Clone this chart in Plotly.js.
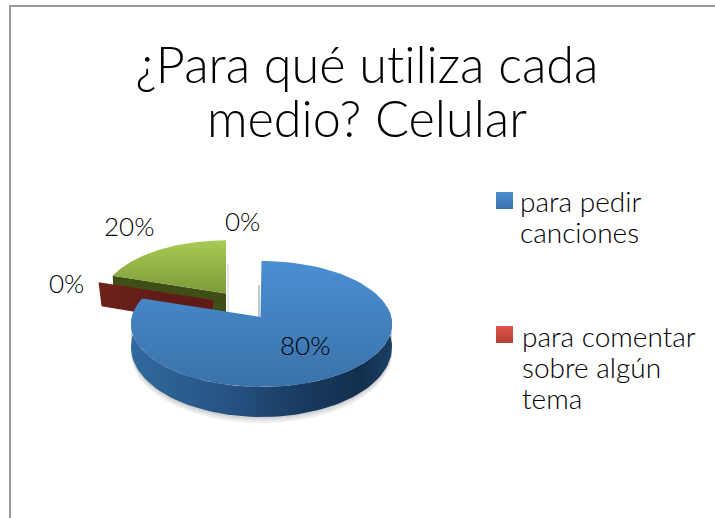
<!DOCTYPE html>
<html><head><meta charset="utf-8">
<script src="https://cdn.plot.ly/plotly-3.0.1.min.js"></script>
<style>html,body{margin:0;padding:0;background:#fff} svg text, svg tspan{font-variant-ligatures:none !important;font-feature-settings:"liga" 0,"clig" 0,"calt" 0,"dlig" 0 !important}</style></head>
<body><div id="chart" style="width:715px;height:518px"></div>
<script>
const titleLines = ["¿Para qué utiliza cada", "medio? Celular"];
const sliceValues = [80, 0, 20, 0];
const legendLines = [["para pedir", "canciones"], ["para comentar", "sobre algún", "tema"]];

const FONT = "Lato, 'Noto Sans', sans-serif";
const rad = d => d * Math.PI / 180;
const total = sliceValues.reduce((a, b) => a + b, 0);
const cum = [0];
sliceValues.forEach(v => cum.push(cum[cum.length - 1] + v / total * 360));
const sized = (lines, px) => lines.map(t => `<span style="font-size:${px}px">${t}</span>`).join("<br>");

// perspective projection of the pie's ground plane
const K = 0.111, A = 129.7, B = 62.2;
function rim(ax, ay, s, deg, drop) {
  const X = Math.sin(rad(deg)), Y = Math.cos(rad(deg)), w = 1 + K * Y;
  const d = drop ? drop * (22 - 8 * Y) / 22 : 0;
  return [ax + s * A * X / w, ay - s * B * Y / w + d];
}
function arc(ax, ay, s, from, to, drop) {
  const pts = [], n = 90;
  for (let i = 0; i <= n; i++) pts.push(rim(ax, ay, s, from + (to - from) * i / n, drop));
  return pts;
}
function poly(pts, extra) {
  const closed = pts.concat([pts[0]]);
  return Object.assign({
    x: closed.map(p => p[0]), y: closed.map(p => p[1]),
    type: "scatter", mode: "lines", fill: "toself", hoverinfo: "skip",
    showlegend: false, line: { width: 0 }
  }, extra);
}
const grad = (type, stops) => ({ fillgradient: { type, colorscale: stops } });

const blue = { ax: 261.5, ay: 317, s: 1, from: cum[0], to: cum[1] };
const red = { ax: 213, ay: 300, s: 0.96, at: cum[2] };
const green = { ax: 226, ay: 293.5, s: 0.95, from: cum[2], to: cum[3] };

const traces = [];
// soft shadow below the body of the pie
[[6, "#efefef"], [4, "#e2e2e2"], [2, "#d2d2d2"]].forEach(([off, c]) => {
  const pts = arc(blue.ax, blue.ay + off, blue.s, 95, 265, 22);
  const top = arc(blue.ax, blue.ay, blue.s, 265, 95, 0);
  traces.push(poly(pts.concat(top), { fillcolor: c }));
});
// green slice: cut face, top face
const gc = rim(green.ax, green.ay, green.s, green.from);
const gcDown = [gc[0] + 1, gc[1] + 24], gaDown = [green.ax, green.ay + 24];
traces.push(poly([gc, [green.ax, green.ay], gaDown, gcDown], { fillcolor: "#3f4e17" }));
traces.push(poly([[green.ax, green.ay]].concat(arc(green.ax, green.ay, green.s, green.from, green.to)),
  Object.assign({ fillcolor: "#95b446" }, grad("vertical", [[0, "#7d9a38"], [1, "#a9cb55"]]))));
// red 0% slice: only its cut face shows
const ro = rim(red.ax, red.ay, red.s, red.at);
traces.push(poly([ro, [red.ax, red.ay], [red.ax, red.ay + 25], [ro[0] + 3, ro[1] + 24]],
  Object.assign({ fillcolor: "#671f1a" }, grad("horizontal", [[0, "#6e211b"], [0.6, "#5f1c18"], [1, "#611a15"]]))));
// inner shadows
traces.push({ x: [blue.ax - 2.5, blue.ax - 2.5], y: [285, blue.ay], type: "scatter", mode: "lines",
  line: { color: "rgba(110,120,130,0.4)", width: 2 }, hoverinfo: "skip", showlegend: false });
traces.push({ x: [green.ax + 2, green.ax + 2], y: [264, 312], type: "scatter", mode: "lines",
  line: { color: "rgba(180,180,180,0.3)", width: 2 }, hoverinfo: "skip", showlegend: false });
// blue slice: side wall, top face
const sideTop = arc(blue.ax, blue.ay, blue.s, 80, 280, 0);
const sideBottom = arc(blue.ax, blue.ay, blue.s, 280, 80, 22);
traces.push(poly(sideTop.concat(sideBottom),
  Object.assign({ fillcolor: "#24507f" }, grad("horizontal",
    [[0, "#316a9e"], [0.15, "#2c6193"], [0.4, "#265081"], [0.65, "#193b60"], [0.88, "#122f4e"], [1, "#1b4063"]]))));
traces.push(poly([[blue.ax - 1, blue.ay]].concat(arc(blue.ax, blue.ay, blue.s, blue.from, blue.to)),
  Object.assign({ fillcolor: "#3f80bd" }, grad("vertical", [[0, "#3a72a9"], [1, "#4a8fd3"]]))));
// legend swatches
const swatch = (x, y, c0, c1) => poly([[x, y], [x + 17, y], [x + 17, y + 17], [x, y + 17]],
  Object.assign({ fillcolor: c0 }, grad("vertical", [[0, c1], [1, c0]])));
traces.push(swatch(496, 192, "#4a8fd3", "#3a72a9"));
traces.push(swatch(496, 326, "#e05549", "#b33e37"));

const label = (text, x, y, size, extra) => Object.assign({
  text, x, y, xref: "x", yref: "y", showarrow: false, xanchor: "center", yanchor: "middle",
  font: { family: FONT, size, color: "#000", weight: 300 }
}, extra);
const pct = v => v + "%";
const annotations = [
  label(pct(sliceValues[0]), 305, 345, 26),
  label(pct(sliceValues[1]), 66, 283, 26),
  label(pct(sliceValues[2]), 129, 226, 26),
  label(pct(sliceValues[3]), 242, 221, 26),
  label(sized(legendLines[0], 28), 518, 216, 24, { xanchor: "left", align: "left" }),
  label(sized(legendLines[1], 28), 520, 367, 24, { xanchor: "left", align: "left" })
];

const layout = {
  width: 715, height: 518, autosize: false,
  margin: { l: 0, r: 0, t: 0, b: 0 },
  paper_bgcolor: "#fff", plot_bgcolor: "#fff", showlegend: false,
  title: { text: sized(titleLines, 50.4), x: 367 / 715, xanchor: "center", y: 0.84, yanchor: "middle",
    yref: "container", font: { family: FONT, size: 41.5, color: "#000", weight: 300 } },
  xaxis: { range: [0, 715], visible: false, fixedrange: true },
  yaxis: { range: [518, 0], visible: false, fixedrange: true },
  annotations,
  shapes: [
    { type: "line", xref: "x", yref: "y", x0: 10, x1: 10, y0: 5, y1: 518, line: { color: "#999", width: 2 } },
    { type: "line", xref: "x", yref: "y", x0: 9, x1: 715, y0: 6, y1: 6, line: { color: "#999", width: 2 } }
  ]
};
Plotly.newPlot("chart", traces, layout, { displayModeBar: false, staticPlot: true });
</script></body></html>
